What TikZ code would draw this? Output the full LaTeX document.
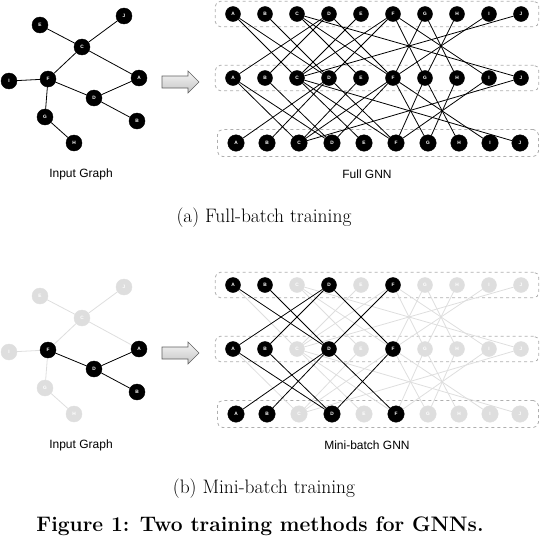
\documentclass[tikz,border=0pt]{standalone}
\usepackage{fontspec}
\newfontfamily\lab{Liberation Sans}
\usetikzlibrary{backgrounds,fit}
\definecolor{lightg}{RGB}{222,222,222}
\definecolor{boxc}{RGB}{175,175,175}
\begin{document}
\begin{tikzpicture}[x=1pt,y=-1pt,
  gn/.style={circle,fill=black,draw=black,minimum size=16pt,inner sep=0pt,text=white,font=\lab\bfseries\fontsize{4.8}{5}\selectfont},
  ln/.style={gn,minimum size=15pt},
  bn/.style={gn,minimum size=16.5pt},
  gg/.style={fill=lightg,draw=lightg,text=white},
  ed/.style={line width=0.8pt,draw=black},
  ged/.style={line width=0.8pt,draw=lightg},
  rowbox/.style={draw=boxc,dashed,rounded corners=5pt,line width=0.8pt,inner xsep=10pt,inner ysep=5pt},
  ttl/.style={font=\lab\fontsize{12}{14}\selectfont},
  captext/.style={font=\fontsize{19.5}{22}\selectfont},
  arr/.style={draw=gray!75!black,line width=0.6pt,top color=gray!8,bottom color=gray!45}
]
\useasboundingbox (0,0) rectangle (542,536);
\clip (0,0) rectangle (542,536);

% ---------- (a) full batch ----------
\foreach \n/\x/\y in {E/40/25,J/124/16,C/82/47,A/139/78,I/9/81,F/48/79,D/94/98,B/137/121,G/45/117,H/74/143}
  \node[gn] (g\n) at (\x,\y) {\n};
\begin{scope}[on background layer]
\foreach \u/\v in {E/C,J/C,C/F,C/A,I/F,F/D,F/G,D/A,D/B,G/H}
  \draw[ed] (g\u) -- (g\v);
\end{scope}
\node[ttl] (lin1) at (81,174) {Input Graph};
\path[arr] (162,76) -- (188,76) -- (188,71) -- (199,82) -- (188,93) -- (188,88) -- (162,88) -- cycle;

\foreach \n/\xt/\xb in {A/233/236,B/265/267,C/297/299,D/329/332,E/361/364,F/393/396,G/425/428,H/457/459,I/489/490,J/521/520}{
  \node[ln] (t\n) at (\xt,14) {\n};
  \node[ln] (m\n) at (\xt,78) {\n};
  \node[bn] (b\n) at (\xb,143) {\n};
}
\begin{scope}[on background layer]
\node[rowbox,fit=(tA)(tJ)] (boxt) {};
\node[rowbox,fit=(mA)(mJ)] (boxm) {};
\node[rowbox,fit=(bA)(bJ)] (boxb) {};
\foreach \u/\v in {A/C,A/D,B/D,C/E,C/F,C/J,D/A,D/B,D/F,E/C,F/C,F/D,F/G,F/I,G/F,G/H,H/G,I/F,J/C}{
  \draw[ed] (t\u) -- (m\v);
  \draw[ed] (m\u) -- (b\v);
}
\end{scope}
\node[ttl] (lfull) at (367,174) {Full GNN};
\node[captext] (capa) at (264,218) {(a) Full-batch training};

% ---------- (b) mini batch ----------
\foreach \n/\x/\y/\s in {E/40/296/gg,J/124/287/gg,C/82/318/gg,A/139/349/,I/9/352/gg,F/48/350/,D/94/369/,B/137/392/,G/45/388/gg,H/74/414/gg}
  \node[gn,\s] (G\n) at (\x,\y) {\n};
\begin{scope}[on background layer]
\foreach \u/\v in {E/C,J/C,C/F,C/A,I/F,F/G,G/H}
  \draw[ged] (G\u) -- (G\v);
\foreach \u/\v in {F/D,D/A,D/B}
  \draw[ed] (G\u) -- (G\v);
\end{scope}
\node[ttl] (lin2) at (81,445) {Input Graph};
\path[arr] (162,347) -- (188,347) -- (188,342) -- (199,353) -- (188,364) -- (188,359) -- (162,359) -- cycle;

\foreach \n/\xt/\xb/\s in {A/233/236/,B/265/267/,C/297/299/gg,D/329/332/,E/361/364/gg,F/393/396/,G/425/428/gg,H/457/459/gg,I/489/490/gg,J/521/520/gg}{
  \node[ln,\s] (T\n) at (\xt,285) {\n};
  \node[ln,\s] (M\n) at (\xt,349) {\n};
  \node[bn,\s] (B\n) at (\xb,414) {\n};
}
\begin{scope}[on background layer]
\node[rowbox,fit=(TA)(TJ)] (boxT) {};
\node[rowbox,fit=(MA)(MJ)] (boxM) {};
\node[rowbox,fit=(BA)(BJ)] (boxB) {};
\foreach \u/\v in {A/C,C/E,C/F,C/J,E/C,F/C,F/G,F/I,G/F,G/H,H/G,I/F,J/C}{
  \draw[ged] (T\u) -- (M\v);
  \draw[ged] (M\u) -- (B\v);
}
\foreach \u/\v in {A/D,B/D,D/A,D/B,D/F,F/D}{
  \draw[ed] (T\u) -- (M\v);
  \draw[ed] (M\u) -- (B\v);
}
\end{scope}
\node[ttl] (lmini) at (367,445) {Mini-batch GNN};
\node[captext] (capb) at (264,489) {(b) Mini-batch training};
\node[font=\bfseries\fontsize{21}{24}\selectfont,anchor=base,inner sep=0pt] (fig) at (260,531) {Figure 1: Two training methods for GNNs.};
\end{tikzpicture}
\end{document}
